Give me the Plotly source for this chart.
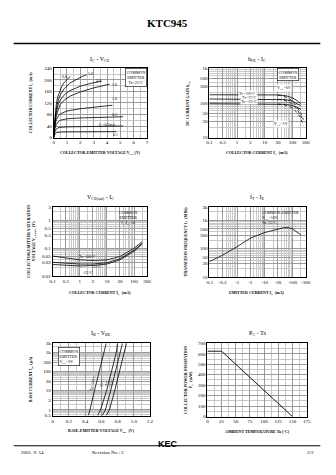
import plotly.graph_objects as go
import math

W, H = 336, 475
FONT = "Liberation Serif"

# ---------------- DATA ----------------
# Panel 1: IC - VCE (VCE in V, IC in mA), one list per base current
ib_labels = ["6.0", "5.0", "4.0", "2.0", "1.0", "0.5", "I<sub>B</sub>=0.2mA", "0.1"]
vce_A = [0, 0.05, 0.1, 0.2, 0.3, 0.45, 0.6, 0.8, 1.0, 1.25]
ic_A = [0, 40, 75, 115, 140, 162, 177, 192, 202, 212]
vce_B = [0, 0.05, 0.1, 0.2, 0.35, 0.5, 0.8, 1.2, 1.7, 2.1, 2.5]
ic_B = [0, 35, 65, 100, 130, 148, 170, 188, 202, 211, 218]
vce_C = [0, 0.05, 0.1, 0.2, 0.35, 0.5, 0.8, 1.2, 2.0, 2.8, 3.6]
ic_C = [0, 30, 58, 88, 115, 130, 148, 162, 178, 188, 195]
vce_D = [0, 0.05, 0.1, 0.2, 0.35, 0.5, 0.8, 1.2, 2.0, 3.0, 4.2]
ic_D = [0, 28, 50, 78, 100, 115, 130, 143, 158, 172, 185]
vce_E = [0, 0.05, 0.1, 0.2, 0.35, 0.5, 1.0, 2.0, 3.0, 4.4]
ic_E = [0, 22, 42, 62, 75, 82, 92, 100, 106, 112]
vce_F = [0, 0.05, 0.1, 0.2, 0.35, 0.5, 1.0, 2.0, 3.0, 4.0, 5.2]
ic_F = [0, 18, 32, 45, 55, 60, 65, 68, 70, 71, 72]
vce_G = [0, 0.05, 0.1, 0.2, 0.4, 1.0, 2.0, 3.5, 5.2]
ic_G = [0, 12, 22, 30, 35, 37, 38, 39, 40]
vce_H = [0, 0.05, 0.1, 0.2, 0.5, 1.0, 3.0, 4.7]
ic_H = [0, 8, 13, 17, 19, 19.5, 20, 20.5]

# Panel 2: hFE - IC
ic_flat = [0.1, 1, 10, 30, 60, 100, 150, 200]
hfe6_100 = [172, 172, 172, 170, 160, 140, 115, 95]
hfe6_25 = [130, 130, 130, 129, 124, 112, 97, 83]
hfe6_m25 = [95, 95, 95, 94, 91, 84, 75, 66]
ic_drop = [30, 50, 80, 100, 150, 200, 250]
hfe1_100 = [168, 155, 130, 110, 75, 50, 33]
hfe1_25 = [128, 120, 103, 90, 64, 44, 30]
hfe1_m25 = [93, 88, 78, 70, 52, 36, 22]

# Panel 3: VCE(sat) - IC
ic_sat = [0.1, 0.3, 1, 3, 10, 30, 100, 200]
vsat_100 = [0.052, 0.045, 0.038, 0.036, 0.038, 0.05, 0.1, 0.17]
vsat_25 = [0.031, 0.029, 0.027, 0.027, 0.03, 0.042, 0.085, 0.15]
vsat_m25 = [0.026, 0.025, 0.023, 0.024, 0.027, 0.038, 0.078, 0.14]

# Panel 4: fT - IE (magnitude of IE in mA)
ie_mag = [0.1, 0.3, 1, 3, 10, 30, 50, 70, 100, 200]
ft_mhz = [35, 59, 118, 234, 372, 503, 555, 560, 500, 310]

# Panel 5: IB - VBE
ib_ua = [0.5, 1, 10, 100, 1000, 3000]
vbe_100 = [0.44, 0.46, 0.515, 0.575, 0.635, 0.66]
vbe_25 = [0.555, 0.59, 0.665, 0.725, 0.785, 0.80]
vbe_0 = [0.61, 0.65, 0.715, 0.775, 0.84, 0.86]
vbe_m25 = [0.66, 0.70, 0.765, 0.825, 0.89, 0.91]
vbe_labels = ["Ta=100°C", "25°C", "0°C", "-25°C"]

# Panel 6: PC - Ta
ta_c = [0, 25, 150]
pc_mw = [625, 625, 0]

# ---------------- HELPERS ----------------
def px(x):
    return x / W


def py(y):
    return 1 - y / H


fig = go.Figure()
annotations = []
shapes = []


def lin(x, y, xa, ya, dash="solid", w=0.8):
    fig.add_trace(go.Scatter(x=x, y=y, mode="lines", xaxis=xa, yaxis=ya,
                             line=dict(color="black", width=w, dash=dash),
                             showlegend=False, hoverinfo="skip"))


def ann(text, x, y, size=4, xanchor="center", yanchor="middle", angle=0,
        box=False, bg=None, align="center"):
    d = dict(text=text, x=px(x), y=py(y), xref="paper", yref="paper",
             showarrow=False, xanchor=xanchor, yanchor=yanchor, textangle=angle,
             font=dict(family=FONT, size=size, color="black"), align=align)
    if box:
        d.update(bordercolor="black", borderwidth=0.6, bgcolor="white", borderpad=1)
    if bg:
        d.update(bgcolor=bg, borderpad=0)
    annotations.append(d)


def axis(x0, x1, y0, y1, n, xtype, xrange, xtv, xtt, ytype, yrange, ytv, ytt,
         xminor=None, yminor=None):
    common = dict(showline=True, linecolor="black", linewidth=0.8, mirror=True,
                  ticks="", gridcolor="#9a9a9a", gridwidth=0.5,
                  tickfont=dict(family=FONT, size=5, color="black"),
                  zeroline=False)
    xa = dict(common, domain=[px(x0), px(x1)], type=xtype, range=xrange,
              tickmode="array", tickvals=xtv, ticktext=xtt, anchor="y%d" % n if n > 1 else "y")
    ya = dict(common, domain=[py(y1), py(y0)], type=ytype, range=yrange,
              tickmode="array", tickvals=ytv, ticktext=ytt, anchor="x%d" % n if n > 1 else "x")
    if xminor:
        xa["minor"] = dict(showgrid=True, gridcolor="#c8c8c8", gridwidth=0.4, **xminor)
    if yminor:
        ya["minor"] = dict(showgrid=True, gridcolor="#c8c8c8", gridwidth=0.4, **yminor)
    k = "" if n == 1 else str(n)
    fig.update_layout(**{"xaxis" + k: xa, "yaxis" + k: ya})


lg = math.log10

# ---------------- PANEL 1 ----------------
axis(51, 147, 67, 137, 1, "linear", [0, 7], list(range(8)), [str(i) for i in range(8)],
     "linear", [0, 240], list(range(0, 241, 40)), [str(v) for v in range(0, 241, 40)],
     xminor=dict(dtick=0.5), yminor=dict(dtick=20))
for vx, iy in [(vce_A, ic_A), (vce_B, ic_B), (vce_C, ic_C), (vce_D, ic_D),
               (vce_E, ic_E), (vce_F, ic_F), (vce_G, ic_G), (vce_H, ic_H)]:
    lin(vx, iy, "x", "y")
p1_lab_pos = [(62, 75), (89, 72), (97, 79), (114, 83), (114, 98), (114, 114), (106, 124), (115, 134)]
for t, (x, y) in zip(ib_labels, p1_lab_pos):
    ann(t, x, y, size=4)
ann("COMMON<br>EMITTER<br>Ta=25°C", 147, 67, size=4, xanchor="right", yanchor="top", box=True)

# ---------------- PANEL 2 ----------------
axis(211, 310, 67, 137, 2, "log", [-1, lg(300)],
     [0.1, 0.3, 1, 3, 10, 30, 100, 300], ["0.1", "0.3", "1", "3", "10", "30", "100", "300"],
     "log", [1, 3], [10, 30, 50, 100, 300, 500, 1000],
     ["10", "30", "50", "100", "300", "500", "1k"],
     xminor=dict(dtick="D1"), yminor=dict(dtick="D1"))
for h in [hfe6_100, hfe6_25, hfe6_m25]:
    lin(ic_flat, h, "x2", "y2")
for h in [hfe1_100, hfe1_25, hfe1_m25]:
    lin(ic_drop, h, "x2", "y2", dash="dot")
ann("Ta=100°C", 250, 92, size=4, bg="white")
ann("Ta=25°C", 252, 96.5, size=4, bg="white")
ann("Ta=-25°C", 252, 101, size=4, bg="white")
ann("V<sub>CE</sub>=6V", 288, 87, size=4, bg="white")
ann("V<sub>CE</sub>=1V", 285, 123, size=4, bg="white")
ann("COMMON<br>EMITTER", 303, 67, size=4, xanchor="right", yanchor="top", box=True)

# ---------------- PANEL 3 ----------------
axis(50, 147, 207, 277, 3, "log", [-1, lg(300)],
     [0.1, 0.3, 1, 3, 10, 30, 100, 300], ["0.1", "0.3", "1", "3", "10", "30", "100", "300"],
     "log", [-2, lg(3)], [0.01, 0.03, 0.05, 0.1, 0.3, 0.5, 1, 3],
     ["0.01", "0.03", "0.05", "0.1", "0.3", "0.5", "1", "3"],
     xminor=dict(dtick="D1"), yminor=dict(dtick="D1"))
for v in [vsat_100, vsat_25, vsat_m25]:
    lin(ic_sat, v, "x3", "y3")
ann("Ta=100°C", 86, 257.5, size=4)
ann("25°C", 96, 267, size=4)
ann("-25°C", 86, 273, size=4)
ann("COMMON<br>EMITTER<br>I<sub>C</sub>/I<sub>B</sub>=10", 140, 208, size=4,
    xanchor="right", yanchor="top")

# ---------------- PANEL 4 ----------------
axis(211, 310, 207, 278, 4, "log", [-1, lg(300)],
     [0.1, 0.3, 1, 3, 10, 30, 100, 300],
     ["-0.1", "-0.3", "-1", "-3", "-10", "-30", "-100", "-300"],
     "log", [1, lg(3000)], [10, 30, 50, 100, 300, 500, 1000, 3000],
     ["10", "30", "50", "100", "300", "500", "1k", "3k"],
     xminor=dict(dtick="D1"), yminor=dict(dtick="D1"))
lin(ie_mag, ft_mhz, "x4", "y4")
ann("COMMON EMITTER<br>V<sub>CE</sub>=10V<br>Ta=25°C", 263, 208, size=4,
    xanchor="left", yanchor="top", align="left")

# ---------------- PANEL 5 ----------------
axis(50, 150, 345, 418, 5, "linear", [0, 1.2],
     [0, 0.2, 0.4, 0.6, 0.8, 1.0, 1.2], ["0", "0.2", "0.4", "0.6", "0.8", "1.0", "1.2"],
     "log", [lg(0.5), lg(3000)], [0.5, 1, 3, 10, 30, 100, 300, 1000, 3000],
     ["0.5", "1", "3", "10", "30", "100", "300", "1k", "3k"],
     xminor=dict(dtick=0.1), yminor=dict(dtick="D1"))
for v in [vbe_100, vbe_25, vbe_0, vbe_m25]:
    lin(v, ib_ua, "x5", "y5")
for t, x in zip(vbe_labels, [91.5, 101, 106, 110.5]):
    ann(t, x, 385, size=4, angle=-75)
ann("COMMON<br>EMITTER<br>V<sub>CE</sub>=6V", 55, 349, size=4, xanchor="left",
    yanchor="top", box=True, align="left")

# ---------------- PANEL 6 ----------------
axis(209, 311, 345, 419, 6, "linear", [0, 175], list(range(0, 176, 25)),
     [str(v) for v in range(0, 176, 25)],
     "linear", [0, 700], list(range(0, 701, 100)), [str(v) for v in range(0, 701, 100)],
     xminor=dict(dtick=12.5), yminor=dict(dtick=50))
lin(ta_c, pc_mw, "x6", "y6", w=0.9)

# ---------------- TITLES ----------------
titles = [
    ("I<sub>C</sub> - V<sub>CE</sub>", 99, 58),
    ("h<sub>FE</sub> - I<sub>C</sub>", 260, 58),
    ("V<sub>CE(sat)</sub> - I<sub>C</sub>", 99, 198),
    ("f<sub>T</sub> - I<sub>E</sub>", 260, 198),
    ("I<sub>B</sub> - V<sub>BE</sub>", 100, 335),
    ("P<sub>C</sub> - Ta", 260, 335),
]
for t, x, y in titles:
    ann(t, x, y, size=6)

xtitles = [
    ("COLLECTOR-EMITTER VOLTAGE V<sub>CE</sub> (V)", 99, 153),
    ("COLLECTOR CURRENT I<sub>C</sub>  (mA)", 260, 153),
    ("COLLECTOR CURRENT I<sub>C</sub>  (mA)", 99, 294),
    ("EMITTER CURRENT I<sub>E</sub>  (mA)", 260, 294),
    ("BASE-EMITTER VOLTAGE V<sub>BE</sub>  (V)", 100, 434),
    ("AMBIENT TEMPERATURE Ta (°C)", 260, 434),
]
for t, x, y in xtitles:
    ann("<b>" + t + "</b>", x, y, size=4)

ytitles = [
    ("COLLECTOR CURRENT I<sub>C</sub> (mA)", 28, 102),
    ("DC CURRENT GAIN h<sub>FE</sub>", 189, 102),
    ("COLLECTOR-EMITTER SATURATION<br>VOLTAGE V<sub>CE(sat)</sub>  (V)", 28, 242),
    ("TRANSITION FREQUENCY f<sub>T</sub>  (MHz)", 187, 242),
    ("BASE CURRENT I<sub>B</sub>  (μA)", 28, 381),
    ("COLLECTOR POWER DISSIPATION<br>P<sub>C</sub>  (mW)", 190, 382),
]
for t, x, y in ytitles:
    ann("<b>" + t + "</b>", x, y, size=4, angle=-90)

# header / footer
ann("<b>KTC945</b>", 168, 21, size=11)
ann("2001. 9. 14", 15, 455, size=5, xanchor="left")
ann("Revision No : 2", 88, 455, size=5, xanchor="left")
annotations.append(dict(text="<b>KEC</b>", x=px(168), y=py(454), xref="paper", yref="paper",
                        showarrow=False, font=dict(family="Liberation Sans", size=9, color="black")))
ann("2/2", 321, 455, size=5, xanchor="right")

shapes.append(dict(type="line", xref="paper", yref="paper", x0=px(10), x1=px(325),
                   y0=py(42), y1=py(42), line=dict(color="black", width=1.5)))
shapes.append(dict(type="line", xref="paper", yref="paper", x0=px(10), x1=px(325),
                   y0=py(448.5), y1=py(448.5), line=dict(color="black", width=1)))

fig.update_layout(width=W, height=H, margin=dict(l=0, r=0, t=0, b=0),
                  paper_bgcolor="white", plot_bgcolor="white",
                  annotations=annotations, shapes=shapes, showlegend=False)

fig.write_html("out.html")
